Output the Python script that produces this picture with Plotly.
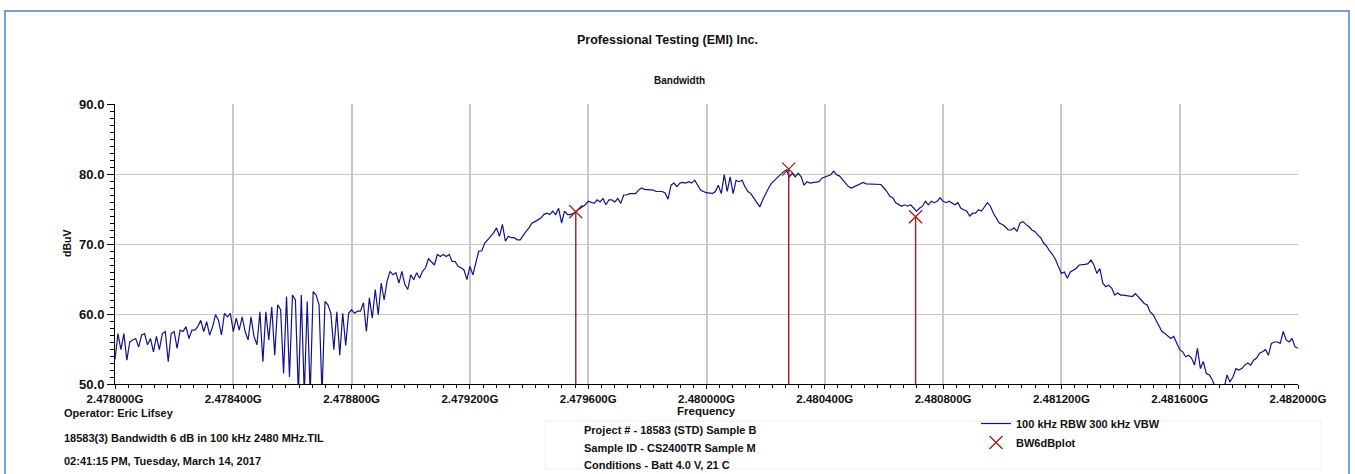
import plotly.graph_objects as go

# ---------------- data ----------------
freq_start_ghz = 2.478
freq_step_ghz = 0.00001  # 10 kHz sweep step, 401 points

level_dbuv = [
    53.5, 57.2, 54.9, 57.2, 53.4, 56.0, 56.3, 56.5, 55.3, 57.0,
    57.2, 55.6, 56.5, 54.6, 56.8, 54.9, 57.2, 57.5, 53.2, 57.2,
    57.5, 55.1, 57.7, 57.5, 58.2, 56.5, 57.7, 57.7, 58.2, 59.1,
    57.5, 58.9, 57.0, 58.2, 59.9, 59.1, 57.0, 60.1, 59.6, 60.1,
    57.5, 59.4, 57.7, 59.6, 57.5, 56.3, 59.6, 56.8, 55.6, 60.3,
    53.2, 60.3, 56.3, 61.0, 54.1, 61.3, 60.6, 51.5, 62.5, 51.0,
    62.7, 62.0, 48.5, 62.7, 48.5, 61.8, 48.5, 63.2, 62.7, 61.3,
    48.5, 61.8, 61.3, 60.1, 54.9, 60.3, 54.1, 60.1, 55.5, 60.1,
    60.6, 60.1, 60.4, 60.4, 61.6, 57.5, 62.3, 59.4, 63.5, 59.9,
    64.4, 62.0, 64.7, 66.1, 65.6, 65.9, 64.4, 66.1, 64.2, 63.5,
    65.6, 64.9, 65.9, 65.1, 66.1, 66.6, 67.9, 67.5, 67.0, 68.5,
    68.2, 68.5, 68.2, 68.5, 67.5, 67.5, 66.8, 66.6, 66.3, 64.9,
    66.8, 65.6, 67.5, 69.0, 69.0, 70.1, 70.6, 71.1, 71.6, 72.3,
    71.1, 72.8, 70.4, 71.1, 70.9, 70.9, 70.6, 70.6, 71.3, 71.8,
    72.3, 73.0, 73.2, 73.5, 73.7, 74.2, 74.4, 74.2, 74.7, 74.2,
    75.1, 73.0, 74.7, 74.2, 74.2, 74.4, 74.7, 75.1, 75.4, 75.6,
    76.1, 76.0, 75.8, 76.3, 76.0, 76.5, 75.6, 76.3, 76.3, 76.0,
    76.5, 75.8, 77.0, 77.0, 77.2, 77.2, 77.2, 77.7, 78.0, 77.8,
    77.8, 77.7, 77.7, 77.5, 77.5, 77.5, 77.3, 76.4, 78.4, 78.7,
    78.2, 78.7, 78.8, 78.7, 78.9, 78.7, 79.1, 78.4, 77.7, 77.5,
    77.3, 77.3, 77.2, 77.5, 78.4, 77.2, 79.9, 77.5, 79.6, 77.2,
    79.1, 78.9, 79.1, 78.2, 77.5, 77.2, 76.5, 75.8, 75.3, 76.3,
    77.2, 78.0, 78.7, 79.1, 79.6, 79.9, 80.3, 80.6, 79.6, 80.1,
    79.6, 80.1, 79.6, 78.4, 78.9, 78.7, 78.8, 78.9, 78.9, 79.4,
    79.6, 79.7, 79.9, 80.4, 79.9, 79.7, 79.2, 78.7, 78.2, 78.0,
    78.2, 78.5, 78.7, 78.8, 78.6, 78.6, 78.5, 78.6, 78.5, 78.5,
    78.0, 77.5, 76.8, 76.6, 75.9, 75.6, 75.4, 75.6, 75.4, 75.6,
    75.1, 74.7, 75.1, 75.4, 76.1, 75.6, 76.1, 75.9, 76.1, 76.6,
    76.1, 75.9, 76.1, 75.9, 75.6, 75.9, 75.1, 74.9, 74.7, 74.0,
    74.4, 74.4, 74.9, 74.7, 75.4, 75.9, 75.4, 74.4, 73.7, 73.0,
    72.8, 72.5, 72.0, 72.0, 72.3, 71.8, 73.0, 73.2, 72.8, 72.5,
    72.0, 71.8, 71.3, 70.9, 70.1, 69.7, 69.0, 68.5, 67.8, 66.8,
    65.8, 66.0, 65.1, 66.0, 66.3, 66.5, 67.0, 67.0, 67.1, 67.2,
    67.7, 67.0, 65.8, 66.5, 64.4, 63.9, 64.1, 63.7, 62.7, 63.0,
    62.7, 62.7, 62.6, 62.5, 62.5, 62.9, 62.5, 62.0, 61.5, 61.3,
    60.3, 59.9, 59.1, 58.2, 57.5, 57.2, 56.8, 56.5, 56.8, 55.8,
    54.9, 54.6, 53.9, 54.1, 53.7, 52.7, 55.1, 52.2, 53.2, 51.5,
    51.3, 50.6, 49.6, 49.5, 49.4, 49.4, 51.3, 50.3, 51.0, 52.2,
    52.0, 52.2, 52.7, 53.0, 52.7, 53.4, 53.7, 54.4, 54.6, 54.9,
    54.1, 55.8, 56.0, 56.0, 55.8, 57.5, 56.3, 56.0, 56.5, 55.3,
    55.1,
]
freq_ghz = [freq_start_ghz + i * freq_step_ghz for i in range(len(level_dbuv))]

marker_freq_ghz = [2.479558, 2.480278, 2.480707]
marker_level_dbuv = [74.6, 80.7, 73.9]

x_tick_vals = [2.478, 2.4784, 2.4788, 2.4792, 2.4796, 2.4800, 2.4804, 2.4808, 2.4812, 2.4816, 2.4820]
x_tick_text = ["2.478000G", "2.478400G", "2.478800G", "2.479200G", "2.479600G", "2.480000G",
               "2.480400G", "2.480800G", "2.481200G", "2.481600G", "2.482000G"]
y_tick_vals = [50, 60, 70, 80, 90]
y_tick_text = ["50.0", "60.0", "70.0", "80.0", "90.0"]
y_min, y_max = 50, 90

# ---------------- figure ----------------
FONT = "Liberation Sans"
W, H = 1355, 474
L, R, T, B = 115, 57, 104, 90
PW, PH = W - L - R, H - T - B


def px(x):
    return (x - L) / PW


def py(y):
    return (H - B - y) / PH


fig = go.Figure()
fig.add_trace(go.Scatter(
    x=freq_ghz, y=level_dbuv, mode="lines", name="100 kHz RBW 300 kHz VBW",
    line=dict(color="#12128c", width=1.2),
))
fig.add_trace(go.Scatter(
    x=marker_freq_ghz, y=marker_level_dbuv, mode="markers", name="BW6dBplot",
    marker=dict(symbol="x-thin-open", size=13, line=dict(color="#a01c1c", width=1.3), color="#a01c1c"),
    error_y=dict(type="data", symmetric=False, array=[0] * len(marker_level_dbuv),
                 arrayminus=[v - y_min for v in marker_level_dbuv],
                 width=0, thickness=1.4, color="#a01c1c"),
))

fig.update_layout(
    width=W, height=H,
    margin=dict(l=L, r=R, t=T, b=B),
    paper_bgcolor="white", plot_bgcolor="white",
    font=dict(family=FONT, color="#111111"),
    showlegend=True,
    legend=dict(x=px(976), y=py(409), xanchor="left", yanchor="top",
                font=dict(family=FONT, size=11, weight="bold", color="#111111"),
                bgcolor="rgba(0,0,0,0)", itemwidth=30, tracegroupgap=2),
    xaxis=dict(
        range=[2.478, 2.482], tickvals=x_tick_vals, ticktext=x_tick_text,
        tickfont=dict(family=FONT, size=11.5, weight="bold", color="#111111"),
        showgrid=True, gridcolor="#c8c8c8", gridwidth=1.6,
        showline=True, linecolor="black", linewidth=1,
        ticks="outside", ticklen=4, tickcolor="black", tickwidth=1,
        minor=dict(dtick=0.0004 / 9, tick0=2.478, ticks="outside", ticklen=3,
                   tickcolor="black", showgrid=False),
        zeroline=False,
    ),
    yaxis=dict(
        range=[y_min, y_max], tickvals=y_tick_vals, ticktext=y_tick_text,
        tickfont=dict(family=FONT, size=13, weight="bold", color="#111111"),
        showgrid=True, gridcolor="#c8c8c8", gridwidth=1.4,
        showline=True, linecolor="black", linewidth=1,
        ticks="outside", ticklen=7, tickcolor="black", tickwidth=1,
        minor=dict(dtick=1, ticks="outside", ticklen=4, tickcolor="black", showgrid=False),
        zeroline=False,
    ),
)


def add_text(text, x, y, size, xanchor="center", angle=0):
    fig.add_annotation(
        text="<b>" + text + "</b>", xref="paper", yref="paper", showarrow=False,
        x=px(x), y=py(y), xanchor=xanchor, yanchor="middle", textangle=angle,
        font=dict(family=FONT, size=size, color="#111111"))


add_text("Professional Testing (EMI) Inc.", 667, 40, 12.5)
add_text("Bandwidth", 679, 80, 10)
add_text("dBuV", 67, 244, 10.5, angle=-90)
add_text("Frequency", 706, 411, 11.5)
add_text("Operator: Eric Lifsey", 62, 413, 11, xanchor="left")
add_text("18583(3) Bandwidth 6 dB in 100 kHz 2480 MHz.TIL", 62, 438, 11, xanchor="left")
add_text("02:41:15 PM, Tuesday, March 14, 2017", 62, 461, 11, xanchor="left")
add_text("Project # - 18583 (STD) Sample B", 582, 430, 11, xanchor="left")
add_text("Sample ID - CS2400TR Sample M", 582, 448, 11, xanchor="left")
add_text("Conditions - Batt 4.0 V, 21 C", 582, 465, 11, xanchor="left")

# outer frame and faint legend box
fig.add_shape(type="rect", xref="paper", yref="paper", x0=px(5), x1=px(1349), y0=py(490), y1=py(11),
              line=dict(color="#7a9fd2", width=2), fillcolor="rgba(0,0,0,0)", layer="below")
fig.add_shape(type="rect", xref="paper", yref="paper", x0=px(545), x1=px(1321), y0=py(469), y1=py(421),
              line=dict(color="#f3f0e7", width=1), fillcolor="rgba(0,0,0,0)", layer="below")

fig.write_html("out.html", config={"displayModeBar": False},
               post_script="document.body.style.margin='0px';document.body.style.overflow='hidden';")
